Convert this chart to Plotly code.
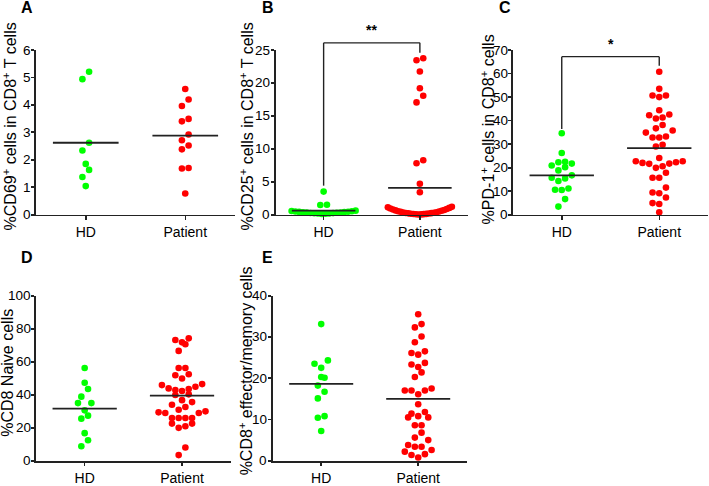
import plotly.graph_objects as go

# ---------------- data ----------------
categories = ["HD", "Patient"]

a_hd = [5.21, 4.94, 2.62, 2.34, 1.85, 1.63, 1.37, 1.04]
a_pt = [4.58, 4.20, 3.96, 3.49, 3.40, 2.92, 2.71, 2.52, 2.38, 1.70, 1.68, 0.77]

b_hd = [3.5, 1.5, 1.45, 0.10, 0.12, 0.16, 0.18, 0.21, 0.23, 0.25, 0.29, 0.31,
        0.33, 0.36, 0.38, 0.41, 0.44, 0.47, 0.51, 0.55, 0.6]
b_pt = [23.75, 23.45, 21.75, 19.2, 18.05, 17.05, 8.25, 7.8, 4.7, 3.4,
        0.02, 0.03, 0.05, 0.07, 0.09, 0.11, 0.13, 0.16, 0.19, 0.22, 0.25, 0.29,
        0.33, 0.37, 0.42, 0.47, 0.52, 0.58, 0.64, 0.71, 0.78, 0.86, 0.94,
        1.02, 1.1, 1.18]

c_hd = [34.6, 26.2, 22.3, 21.7, 22.5, 20.9, 20.2, 18.8, 16.7, 15.7, 15.4,
        14.3, 11.1, 10.6, 10.5, 6.6, 3.4]
c_pt = [60.8, 53.5, 50.7, 50.0, 50.7, 44.4, 42.6, 41.3, 40.9, 42.3, 38.1,
        36.7, 34.9, 35.8, 32.8, 32.8, 33.2, 29.0, 29.7, 24.1, 22.7, 22.0,
        21.6, 20.6, 19.9, 21.7, 22.3, 22.7, 17.8, 15.7, 15.7, 11.5, 9.1, 9.4,
        7.3, 4.5, 4.9, 1.0]

d_hd = [56.2, 47.2, 43.4, 38.8, 34.9, 34.9, 30.5, 27.3, 25.5, 16.7, 12.4, 8.8]
d_pt = [74.1, 73.1, 71.7, 70.5, 66.5, 56.2, 56.2, 52.4, 51.8, 49.8, 45.8,
        43.8, 46.4, 44.8, 42.8, 42.2, 43.4, 39.8, 40.2, 35.5, 36.7, 33.9,
        29.3, 28.9, 30.9, 29.9, 32.5, 28.9, 25.9, 25.9, 25.9, 25.9, 22.5,
        20.9, 19.9, 22.5, 8.0, 3.4]

e_hd = [33.1, 24.3, 23.5, 22.5, 20.1, 20.3, 18.2, 16.7, 15.1, 10.8, 10.4, 7.2]
e_pt = [35.5, 33.1, 32.3, 30.1, 28.7, 26.1, 26.5, 25.7, 23.7, 23.3, 22.7,
        21.4, 20.3, 17.5, 17.0, 16.1, 17.0, 17.0, 13.7, 11.8, 10.8, 10.5,
        10.5, 11.4, 8.6, 8.6, 6.8, 5.0, 5.6, 3.4, 3.4, 3.8, 2.6, 2.2, 1.6,
        1.4, 0.8]

means_a = [2.62, 2.88]
means_b = [0.6, 4.05]
means_c = [16.7, 28.3]
means_d = [31.5, 39.4]
means_e = [18.6, 15.0]

titles = [
    "%CD69<sup>+</sup> cells in CD8<sup>+</sup> T cells",
    "%CD25<sup>+</sup> cells in CD8<sup>+</sup> T cells",
    "%PD-1<sup>+</sup> cells in CD8<sup>+</sup> cells",
    "%CD8 Naive cells",
    "%CD8<sup>+</sup> effector/memory cells",
]
letters = ["A", "B", "C", "D", "E"]
y_max = [6, 25, 70, 100, 40]
y_step = [1, 5, 10, 20, 10]

# significance brackets: (panel index, bar height, left end, right end, label)
brackets = [
    (1, 26.1, 4.4, 24.6, "**"),
    (2, 67.2, 36.4, 63.3, "*"),
]

# ---------------- layout geometry (pixels) ----------------
W, H = 709, 486
FONT = "Arial, 'Liberation Sans', sans-serif"
GREEN = "#00ff00"
RED = "#ff0000"
AXC = "#222222"

panel_x = [(36, 235), (275.5, 468), (513, 708), (36, 230.7), (272.7, 466.7)]
panel_y = [(50.7, 217.3), (50.7, 217.3), (50.7, 217.3), (299.3, 466.5), (299.3, 466.5)]
title_pos = [(10, 128), (247, 128), (488, 131), (7.5, 378), (246, 376)]
letter_pos = [(27, 8), (268, 8), (505, 8), (27, 261), (267, 261)]

groups = [(a_hd, a_pt), (b_hd, b_pt), (c_hd, c_pt), (d_hd, d_pt), (e_hd, e_pt)]
means = [means_a, means_b, means_c, means_d, means_e]


def row_layout(vals, px_per_unit, h=8.0, step=6.7, max_w=64.0):
    """Prism-like scatter: bin sorted values into rows, spread each row."""
    idx = sorted(range(len(vals)), key=lambda i: vals[i])
    rows, cur, start = [], [], None
    for i in idx:
        y = vals[i] * px_per_unit
        if cur and y - start < h:
            cur.append(i)
        else:
            if cur:
                rows.append(cur)
            cur, start = [i], y
    if cur:
        rows.append(cur)
    off = [0.0] * len(vals)
    for r in rows:
        n = len(r)
        s = step if n < 2 else min(step, max_w / (n - 1))
        slots = [(k - (n - 1) / 2) * s for k in range(n)]
        slots.sort(key=lambda v: (abs(v), v))
        for i, sl in zip(r, slots):
            off[i] = sl
    return off


fig = go.Figure()
layout = dict(
    width=W, height=H, margin=dict(l=0, r=0, t=0, b=0, pad=0),
    paper_bgcolor="white", plot_bgcolor="white", showlegend=False,
    font=dict(family=FONT, color="black", size=14),
)
annotations = []
shapes = []

for p in range(5):
    n = "" if p == 0 else str(p + 1)
    xa, ya = "x" + n, "y" + n
    x0, x1 = panel_x[p]
    y0, y1 = panel_y[p]
    ppu_y = (y1 - y0) / y_max[p]
    ppu_x = (x1 - x0) / 2.0

    for c, (vals, col) in enumerate(zip(groups[p], [GREEN, RED])):
        off = row_layout(vals, ppu_y)
        fig.add_trace(go.Scatter(
            x=[c + o / ppu_x for o in off], y=vals, mode="markers",
            marker=dict(color=col, size=6.6, line=dict(width=0)),
            cliponaxis=False, xaxis=xa, yaxis=ya, hoverinfo="skip"))
    for c, m in enumerate(means[p]):
        fig.add_trace(go.Scatter(
            x=[c - 0.33, c + 0.33], y=[m, m], mode="lines",
            line=dict(color="#222222", width=1.8),
            xaxis=xa, yaxis=ya, hoverinfo="skip"))

    layout["xaxis" + n] = dict(
        domain=[x0 / W, x1 / W], range=[-0.5, 1.5], anchor=ya,
        tickvals=[0, 1], ticktext=categories, showline=True,
        linecolor=AXC, linewidth=1.8, ticks="outside", ticklen=3.5,
        tickwidth=1.5, tickcolor=AXC, showgrid=False,
        zeroline=False, tickfont=dict(size=14, family=FONT, color="black"),
        fixedrange=True)
    tick_vals = list(range(0, y_max[p] + 1, y_step[p]))
    layout["yaxis" + n] = dict(
        domain=[1 - y1 / H, 1 - y0 / H], range=[0, y_max[p]], anchor=xa,
        tickvals=tick_vals, showticklabels=False, showline=True,
        linecolor=AXC, linewidth=1.8, ticks="outside", ticklen=3,
        tickwidth=1.8, tickcolor=AXC, showgrid=False, zeroline=False,
        fixedrange=True)
    # y tick labels, set tight against the tick marks as in the reference
    for v in tick_vals:
        annotations.append(dict(
            text=str(v), x=(x0 - 3.5) / W, y=v, xref="paper", yref=ya,
            xanchor="right", yanchor="middle", showarrow=False,
            font=dict(size=13.5, family=FONT, color="black")))

    tx, ty = title_pos[p]
    annotations.append(dict(
        text=titles[p], x=tx / W, y=1 - ty / H, xref="paper", yref="paper",
        xanchor="center", yanchor="middle", textangle=-90, showarrow=False,
        font=dict(size=16, family=FONT, color="black")))
    lx, ly = letter_pos[p]
    annotations.append(dict(
        text="<b>%s</b>" % letters[p], x=lx / W, y=1 - ly / H, xref="paper",
        yref="paper", xanchor="center", yanchor="middle", showarrow=False,
        font=dict(size=16, family=FONT, color="black")))

for p, top, left, right, lab in brackets:
    n = "" if p == 0 else str(p + 1)
    xr, yr = "x%s domain" % n, "y%s domain" % n
    ym = y_max[p]
    xl, xrr = (0 + 0.5) / 2.0, (1 + 0.5) / 2.0
    st = dict(color=AXC, width=1.4)
    shapes.append(dict(type="line", xref=xr, yref=yr, x0=xl, x1=xrr,
                       y0=top / ym, y1=top / ym, line=st))
    shapes.append(dict(type="line", xref=xr, yref=yr, x0=xl, x1=xl,
                       y0=left / ym, y1=top / ym, line=st))
    shapes.append(dict(type="line", xref=xr, yref=yr, x0=xrr, x1=xrr,
                       y0=right / ym, y1=top / ym, line=st))
    annotations.append(dict(
        text="<b>%s</b>" % lab, x=0.5, y=top / ym, xref=xr, yref=yr,
        xanchor="center", yanchor="bottom", showarrow=False, yshift=3,
        font=dict(size=14, family=FONT, color="black")))

layout["annotations"] = annotations
layout["shapes"] = shapes
fig.update_layout(**layout)
fig.write_html(
    "out.html",
    config={"displayModeBar": False, "staticPlot": True},
    post_script=(
        "document.documentElement.style.margin='0px';"
        "document.documentElement.style.overflow='hidden';"
        "document.body.style.margin='0px';"
        "document.body.style.padding='0px';"
        "document.body.style.overflow='hidden';"
        "var d=document.getElementById('{plot_id}');"
        "d.style.position='absolute';d.style.left='0px';d.style.top='0px';"
    ),
)
